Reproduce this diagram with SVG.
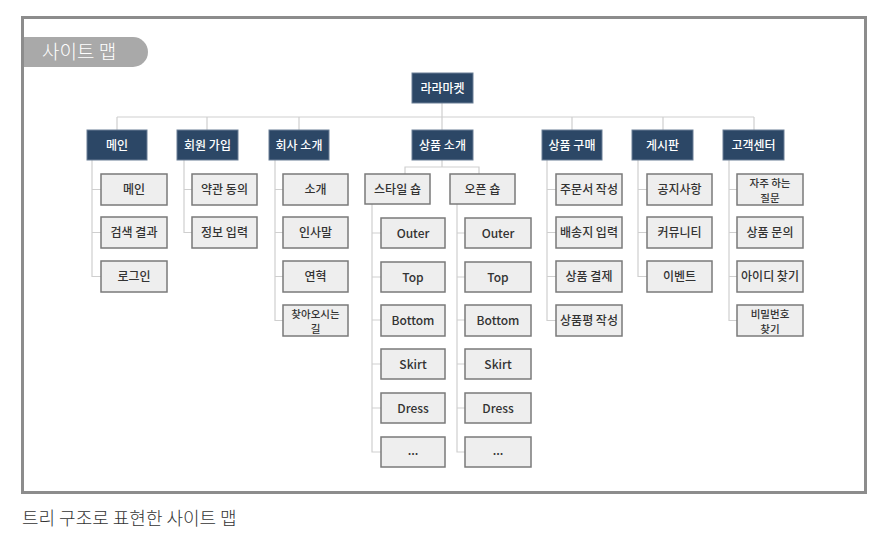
<svg xmlns="http://www.w3.org/2000/svg" width="889" height="538" viewBox="0 0 889 538">
<style>
.frame{fill:#fff;stroke:#8c8c8c;stroke-width:3}
.n1 rect{fill:#2c4766;stroke:#6a7f96;stroke-width:1}
.n1 text{fill:#fff;font-family:"Noto Sans CJK KR","Noto Sans",sans-serif;font-size:12px;font-weight:500;text-anchor:middle}
.n2 rect{fill:#eeeeee;stroke:#7a7a7a;stroke-width:1.5}
.n2 text{fill:#333;font-family:"Noto Sans CJK KR","Noto Sans",sans-serif;font-size:12px;font-weight:500;text-anchor:middle}
.n2 text.t2{font-size:10.5px}
.c{fill:none;stroke:#cfcfcf;stroke-width:1.2}
</style>
<rect x="0" y="0" width="889" height="538" fill="#fff"/>
<rect class="frame" x="22.5" y="17.5" width="843" height="475"/>
<g id="title">
<path d="M24 37 H133 A15 15 0 0 1 133 67 H24 Z" fill="#a9a9a9"/>
<text x="42" y="58.5" fill="#fff" font-family="'Noto Sans CJK KR','Noto Sans',sans-serif" font-size="19" font-weight="300">사이트 맵</text>
</g>
<g id="connectors">
<path class="c" d="M442 103 V131 M117 117 H754 M117 117 V130 M207 117 V130 M299 117 V130 M572 117 V130 M663 117 V130 M754 117 V130"/>
<path class="c" d="M92 160 V276.5 H101 M92 189.5 H101 M92 232.5 H101"/>
<path class="c" d="M184 160 V232.5 H192 M184 189.5 H192"/>
<path class="c" d="M275 160 V320.5 H283 M275 189.5 H283 M275 232.5 H283 M275 276.5 H283"/>
<path class="c" d="M442 160 V167 M405 174 V167 H479 V174"/>
<path class="c" d="M372 203 V452 H381 M372 233 H381 M372 277 H381 M372 320 H381 M372 364 H381 M372 408 H381"/>
<path class="c" d="M457 203 V452 H465 M457 233 H465 M457 277 H465 M457 320 H465 M457 364 H465 M457 408 H465"/>
<path class="c" d="M547 160 V320.5 H556 M547 189.5 H556 M547 232.5 H556 M547 276.5 H556"/>
<path class="c" d="M638 160 V276.5 H647 M638 189.5 H647 M638 232.5 H647"/>
<path class="c" d="M729 160 V320.5 H737 M729 189.5 H737 M729 232.5 H737 M729 276.5 H737"/>
</g>
<g id="root" class="n1"><rect x="412" y="73" width="61" height="30"/><text x="442.5" y="92.5">라라마켓</text></g>
<g id="main" class="n1"><rect x="87" y="130" width="60" height="30"/><text x="117" y="149.5">메인</text></g>
<g id="join" class="n1"><rect x="177" y="130" width="61" height="30"/><text x="207.5" y="149.5">회원 가입</text></g>
<g id="company" class="n1"><rect x="269" y="130" width="60" height="30"/><text x="299" y="149.5">회사 소개</text></g>
<g id="products" class="n1"><rect x="412" y="130" width="61" height="30"/><text x="442.5" y="149.5">상품 소개</text></g>
<g id="purchase" class="n1"><rect x="542" y="130" width="60" height="30"/><text x="572" y="149.5">상품 구매</text></g>
<g id="board" class="n1"><rect x="632" y="130" width="61" height="30"/><text x="662.5" y="149.5">게시판</text></g>
<g id="cs" class="n1"><rect x="723" y="130" width="61" height="30"/><text x="753.5" y="149.5">고객센터</text></g>

<g id="main-main" class="n2"><rect x="101" y="174" width="66" height="31"/><text x="134" y="194">메인</text></g>
<g id="main-search" class="n2"><rect x="101" y="217" width="66" height="31"/><text x="134" y="237">검색 결과</text></g>
<g id="main-login" class="n2"><rect x="101" y="261" width="66" height="31"/><text x="134" y="281">로그인</text></g>

<g id="join-terms" class="n2"><rect x="192" y="174" width="65" height="31"/><text x="224.5" y="194">약관 동의</text></g>
<g id="join-info" class="n2"><rect x="192" y="217" width="65" height="31"/><text x="224.5" y="237">정보 입력</text></g>

<g id="co-intro" class="n2"><rect x="283" y="174" width="65" height="31"/><text x="315.5" y="194">소개</text></g>
<g id="co-greet" class="n2"><rect x="283" y="217" width="65" height="31"/><text x="315.5" y="237">인사말</text></g>
<g id="co-hist" class="n2"><rect x="283" y="261" width="65" height="31"/><text x="315.5" y="281">연혁</text></g>
<g id="co-map" class="n2"><rect x="283" y="305" width="65" height="31"/><text class="t2" x="315.5" y="317.5">찾아오시는</text><text class="t2" x="315.5" y="332.8">길</text></g>

<g id="style-shop" class="n2"><rect x="365" y="174" width="65" height="30"/><text x="397.5" y="193.5">스타일 숍</text></g>
<g id="open-shop" class="n2"><rect x="450" y="174" width="65" height="30"/><text x="482.5" y="193.5">오픈 숍</text></g>

<g id="s-outer" class="n2"><rect x="381" y="218" width="64" height="30"/><text x="413" y="237.5">Outer</text></g>
<g id="s-top" class="n2"><rect x="381" y="262" width="64" height="30"/><text x="413" y="281.5">Top</text></g>
<g id="s-bottom" class="n2"><rect x="381" y="305" width="64" height="31"/><text x="413" y="325">Bottom</text></g>
<g id="s-skirt" class="n2"><rect x="381" y="349" width="64" height="30"/><text x="413" y="368.5">Skirt</text></g>
<g id="s-dress" class="n2"><rect x="381" y="393" width="64" height="30"/><text x="413" y="412.5">Dress</text></g>
<g id="s-more" class="n2"><rect x="381" y="437" width="64" height="30"/><text x="413" y="455">...</text></g>

<g id="o-outer" class="n2"><rect x="465" y="218" width="66" height="30"/><text x="498" y="237.5">Outer</text></g>
<g id="o-top" class="n2"><rect x="465" y="262" width="66" height="30"/><text x="498" y="281.5">Top</text></g>
<g id="o-bottom" class="n2"><rect x="465" y="305" width="66" height="31"/><text x="498" y="325">Bottom</text></g>
<g id="o-skirt" class="n2"><rect x="465" y="349" width="66" height="30"/><text x="498" y="368.5">Skirt</text></g>
<g id="o-dress" class="n2"><rect x="465" y="393" width="66" height="30"/><text x="498" y="412.5">Dress</text></g>
<g id="o-more" class="n2"><rect x="465" y="437" width="66" height="30"/><text x="498" y="455">...</text></g>

<g id="p-order" class="n2"><rect x="556" y="174" width="66" height="31"/><text x="589" y="194">주문서 작성</text></g>
<g id="p-ship" class="n2"><rect x="556" y="217" width="66" height="31"/><text x="589" y="237">배송지 입력</text></g>
<g id="p-pay" class="n2"><rect x="556" y="261" width="66" height="31"/><text x="589" y="281">상품 결제</text></g>
<g id="p-review" class="n2"><rect x="556" y="305" width="66" height="31"/><text x="589" y="325">상품평 작성</text></g>

<g id="b-notice" class="n2"><rect x="647" y="174" width="65" height="31"/><text x="679.5" y="194">공지사항</text></g>
<g id="b-comm" class="n2"><rect x="647" y="217" width="65" height="31"/><text x="679.5" y="237">커뮤니티</text></g>
<g id="b-event" class="n2"><rect x="647" y="261" width="65" height="31"/><text x="679.5" y="281">이벤트</text></g>

<g id="c-faq" class="n2"><rect x="737" y="174" width="66" height="31"/><text class="t2" x="770" y="186.5">자주 하는</text><text class="t2" x="770" y="201.8">질문</text></g>
<g id="c-qna" class="n2"><rect x="737" y="217" width="66" height="31"/><text x="770" y="237">상품 문의</text></g>
<g id="c-id" class="n2"><rect x="737" y="261" width="66" height="31"/><text x="770" y="281">아이디 찾기</text></g>
<g id="c-pw" class="n2"><rect x="737" y="305" width="66" height="31"/><text class="t2" x="770" y="317.5">비밀번호</text><text class="t2" x="770" y="332.8">찾기</text></g>

<text id="caption" x="22" y="525" fill="#333" font-family="'Noto Sans CJK KR','Noto Sans',sans-serif" font-size="18" font-weight="300">트리 구조로 표현한 사이트 맵</text>
</svg>
